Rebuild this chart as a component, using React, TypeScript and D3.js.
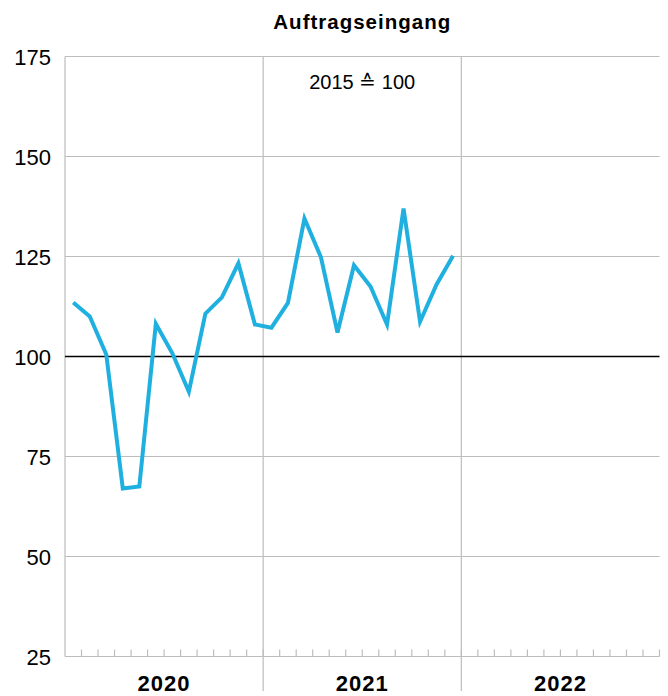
import React from "react";
import * as d3 from "d3";

const years = ["2020", "2021", "2022"];
const yTicks = [25, 50, 75, 100, 125, 150, 175];
const values = [
  113.5, 110, 100.5, 67, 67.5, 108.2, 100.8, 91.2, 110.7, 114.8, 123.3, 108,
  107.2, 113.4, 134.5, 124.8, 106, 122.8, 117.5, 108, 137, 108.7, 118, 125.2,
];
const title = "Auftragseingang";
const note = "2015 \u2259 100";

const W = 668;
const H = 696;
const left = 65;
const right = 659.5;
const top = 56.5;
const bottom = 656.5;
const FONT = "'Liberation Sans', Arial, sans-serif";
const GRID = "#bdbdbd";

export default function App() {
  const nMonths = years.length * 12;
  const x = d3.scaleLinear().domain([0, nMonths]).range([left, right]);
  const y = d3.scaleLinear().domain([25, 175]).range([bottom, top]);
  const line = d3
    .line<number>()
    .x((_, i) => x(i + 0.5))
    .y((d) => y(d));

  const months = d3.range(1, nMonths + 1);

  return (
    <svg
      width={W}
      height={H}
      style={{ position: "absolute", left: 0, top: 0, background: "#fff" }}
    >
      <text
        x={(left + right) / 2}
        y={29}
        textAnchor="middle"
        fontFamily={FONT}
        fontWeight="bold"
        fontSize={20.5}
        letterSpacing={1}
      >
        {title}
      </text>
      {yTicks
        .filter((t) => t !== 100)
        .map((t) => (
          <line
            key={t}
            x1={left}
            x2={right}
            y1={y(t)}
            y2={y(t)}
            stroke={GRID}
            strokeWidth={1.2}
          />
        ))}
      <line x1={left} x2={left} y1={top} y2={bottom} stroke={GRID} strokeWidth={1.2} />
      {years.slice(1).map((_, i) => (
        <line
          key={i}
          x1={x((i + 1) * 12)}
          x2={x((i + 1) * 12)}
          y1={top}
          y2={691}
          stroke={GRID}
          strokeWidth={1.2}
        />
      ))}
      {months.map((m) => (
        <line
          key={m}
          x1={x(m)}
          x2={x(m)}
          y1={bottom}
          y2={bottom - 7}
          stroke={GRID}
          strokeWidth={1.2}
        />
      ))}
      <line x1={left} x2={right} y1={y(100)} y2={y(100)} stroke="#000" strokeWidth={1.5} />
      {yTicks.map((t) => (
        <text
          key={t}
          x={51}
          y={y(t) + 8}
          textAnchor="end"
          fontFamily={FONT}
          fontSize={22}
        >
          {t}
        </text>
      ))}
      {years.map((yr, i) => (
        <text
          key={yr}
          x={x(i * 12 + 6)}
          y={691}
          textAnchor="middle"
          fontFamily={FONT}
          fontWeight="bold"
          fontSize={22}
          letterSpacing={1}
        >
          {yr}
        </text>
      ))}
      <text
        x={x(18)}
        y={89}
        textAnchor="middle"
        fontFamily={FONT}
        fontSize={20}
      >
        {note}
      </text>
      <path
        d={line(values) || ""}
        fill="none"
        stroke="#1fb0e0"
        strokeWidth={4}
        strokeLinejoin="miter"
      />
    </svg>
  );
}
